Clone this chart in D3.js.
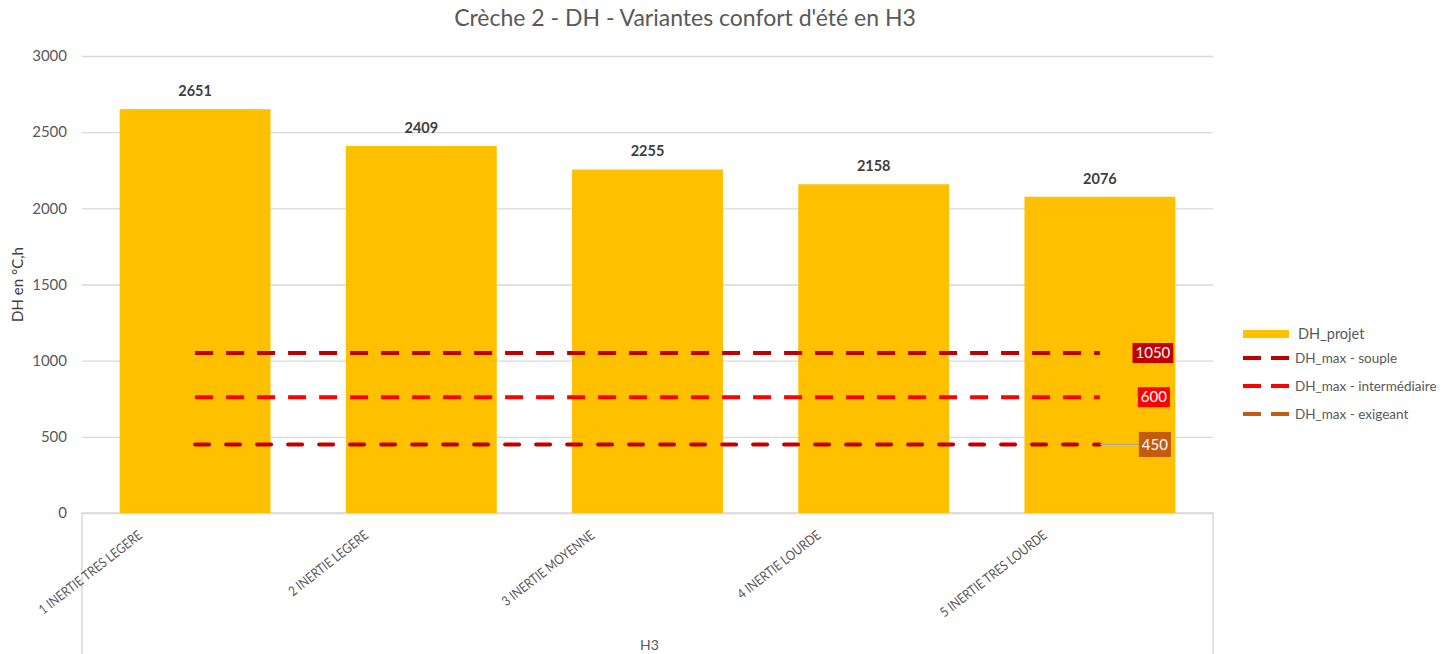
<!DOCTYPE html>
<html>
<head>
<meta charset="utf-8">
<script src="https://cdn.jsdelivr.net/npm/d3@7"></script>
<style>
  body { margin: 0; background: #fff; }
  svg { font-family: Lato, 'Open Sans', sans-serif; }
</style>
</head>
<body>
<div id="chart"></div>
<script>
const categories = ['1 INERTIE TRES LEGERE', '2 INERTIE LEGERE', '3 INERTIE MOYENNE', '4 INERTIE LOURDE', '5 INERTIE TRES LOURDE']
const dhProjet = [2651, 2409, 2255, 2158, 2076]
const limitNames = ['DH_max - souple', 'DH_max - intermédiaire', 'DH_max - exigeant']
const limitValues = [1050, 760, 450]
const limitLabels = ['1050', '600', '450']
const yTicks = [0, 500, 1000, 1500, 2000, 2500, 3000]

const lineColors = ['#C00000', '#FF0000', '#C00000']
const legendColors = ['#C00000', '#FF0000', '#C55A11']
const boxColors = ['#C00000', '#FF0000', '#C55A11']

const width = 1449, height = 654
const plot = { left: 82, right: 1213, top: 56, bottom: 513 }

const svg = d3.select('#chart').append('svg')
  .attr('width', width)
  .attr('height', height)

const x = d3.scaleBand()
  .domain(categories)
  .range([plot.left, plot.right])
  .paddingInner(0.333)
  .paddingOuter(0.1665)

const y = d3.scaleLinear()
  .domain([0, 3000])
  .range([plot.bottom, plot.top])

// title
svg.append('text')
  .attr('x', 685).attr('y', 26)
  .attr('text-anchor', 'middle')
  .attr('font-size', 23)
  .attr('fill', '#595959')
  .text("Crèche 2 - DH - Variantes confort d'été en H3")

// grid
svg.append('g')
  .attr('transform', `translate(${plot.left},0)`)
  .call(d3.axisLeft(y).tickValues(yTicks).tickFormat(d3.format('d')).tickSize(-(plot.right - plot.left)).tickPadding(15))
  .call(g => g.select('.domain').remove())
  .call(g => g.selectAll('.tick line').attr('stroke', '#d9d9d9').attr('stroke-width', 1.3))
  .call(g => g.selectAll('.tick text').attr('fill', '#595959').attr('font-size', 15).attr('font-family', 'Lato'))

// category axis frame
svg.append('path')
  .attr('d', `M${plot.left},${height} V${plot.bottom} H${plot.right} V${height}`)
  .attr('fill', 'none')
  .attr('stroke', '#d9d9d9')
  .attr('stroke-width', 1.5)

// bars
svg.append('g')
  .selectAll('rect')
  .data(dhProjet)
  .join('rect')
  .attr('x', (d, i) => x(categories[i]))
  .attr('y', d => y(d))
  .attr('width', x.bandwidth())
  .attr('height', d => y(0) - y(d))
  .attr('fill', '#FFC000')

svg.append('g')
  .selectAll('text')
  .data(dhProjet)
  .join('text')
  .attr('x', (d, i) => x(categories[i]) + x.bandwidth() / 2)
  .attr('y', d => y(d) - 13)
  .attr('text-anchor', 'middle')
  .attr('font-size', 14.5)
  .attr('font-weight', 'bold')
  .attr('fill', '#404040')
  .text(d => d)

// limit lines
const xc = c => x(c) + x.bandwidth() / 2
const x0 = xc(categories[0]), x1 = xc(categories[categories.length - 1])

limitValues.forEach((v, i) => {
  svg.append('line')
    .attr('x1', x0).attr('x2', x1)
    .attr('y1', y(v)).attr('y2', y(v))
    .attr('stroke', lineColors[i])
    .attr('stroke-width', 4)
    .attr('stroke-dasharray', i === 2 ? '14,17' : '18,13')
    .attr('stroke-linecap', i === 2 ? 'round' : 'butt')
})

// leader for last label
svg.append('line')
  .attr('x1', x1).attr('x2', x1 + 38)
  .attr('y1', y(limitValues[2])).attr('y2', y(limitValues[2]))
  .attr('stroke', '#a6a6a6').attr('stroke-width', 1.2)

limitValues.forEach((v, i) => {
  const g = svg.append('g').attr('transform', `translate(${x1 + 53 + i},${y(v)})`)
  const t = g.append('text')
    .attr('text-anchor', 'middle')
    .attr('dy', '0.35em')
    .attr('font-size', 15)
    .attr('fill', '#fff')
    .text(limitLabels[i])
  const w = t.node().getComputedTextLength()
  const h = i === 2 ? 25 : 20
  g.insert('rect', 'text')
    .attr('x', -w / 2 - 3).attr('y', -h / 2)
    .attr('width', w + 6).attr('height', h)
    .attr('fill', boxColors[i])
})

// x labels (narrowed a bit, the original font is condensed)
svg.append('g')
  .selectAll('text')
  .data(categories)
  .join('text')
  .attr('transform', d => `translate(${xc(d) - 52},${plot.bottom + 24}) rotate(-38) scale(0.86,1)`)
  .attr('text-anchor', 'end')
  .attr('font-size', 13.5)
  .attr('fill', '#595959')
  .text(d => d)

svg.append('text')
  .attr('x', (plot.left + plot.right) / 2 + 2).attr('y', 650)
  .attr('text-anchor', 'middle')
  .attr('font-size', 14)
  .attr('fill', '#595959')
  .text('H3')

// y title
svg.append('text')
  .attr('transform', `translate(23,${(plot.top + plot.bottom) / 2}) rotate(-90)`)
  .attr('text-anchor', 'middle')
  .attr('font-size', 15)
  .attr('fill', '#404040')
  .text('DH en °C,h')

// legend
const leg = svg.append('g').attr('transform', 'translate(1243,334)')
leg.append('rect').attr('x', 0).attr('y', -4).attr('width', 46).attr('height', 8).attr('fill', '#FFC000')
leg.append('text').attr('x', 55).attr('dy', '0.35em').attr('font-size', 14.5).attr('fill', '#595959').text('DH_projet')

limitNames.forEach((n, i) => {
  const ly = 24 + i * 28
  leg.append('line')
    .attr('x1', 0).attr('x2', 46).attr('y1', ly).attr('y2', ly)
    .attr('stroke', legendColors[i]).attr('stroke-width', 4)
    .attr('stroke-dasharray', '18,10')
  leg.append('text').attr('x', 52).attr('y', ly).attr('dy', '0.35em')
    .attr('font-size', 13.5).attr('fill', '#595959').text(n)
})
</script>
</body>
</html>
